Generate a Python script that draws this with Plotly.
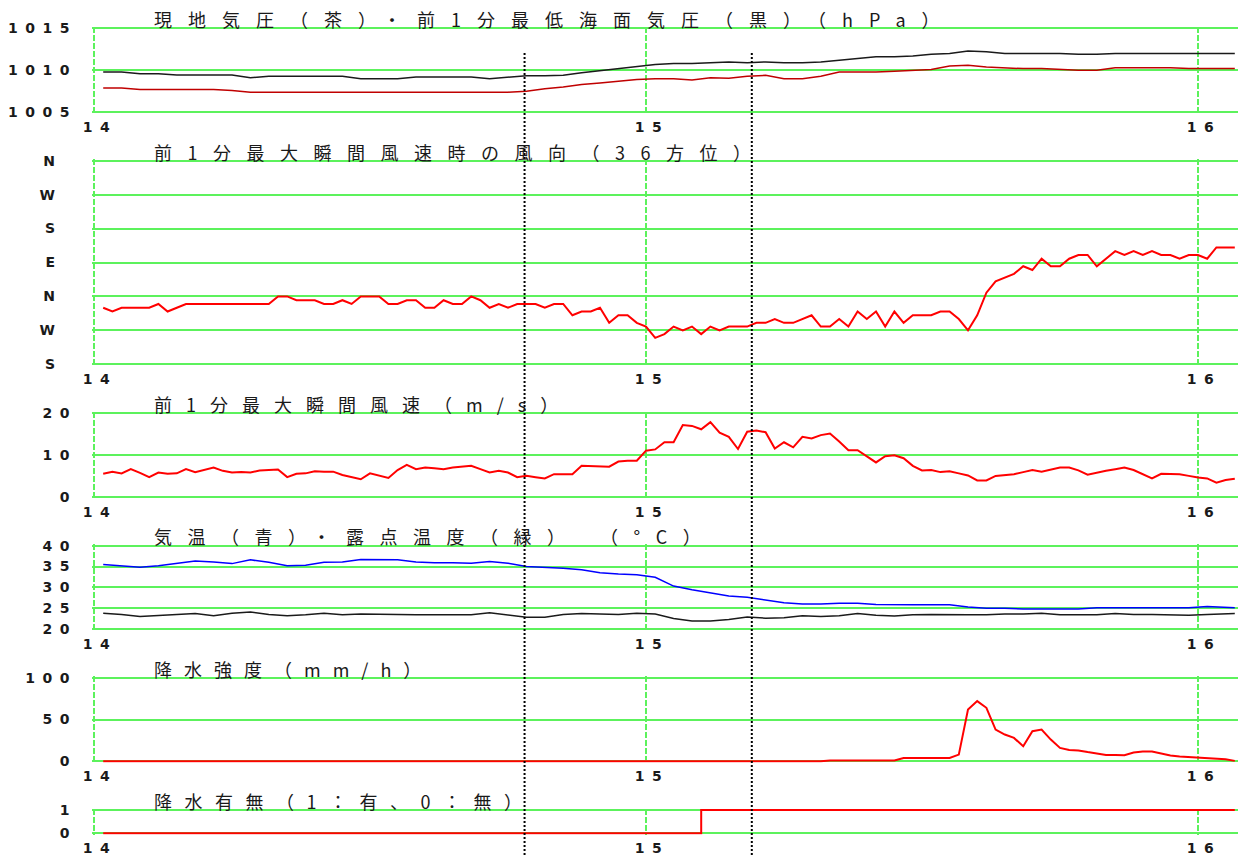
import plotly.graph_objects as go

# ---------------- data (minutes after 14:00) ----------------
minutes_1 = list(range(1, 125))                  # 1-minute samples 14:01 .. 16:04
minutes_2 = list(range(1, 124, 2)) + [124]       # 2-minute samples

sea_level_pressure = [
    1009.8, 1009.8, 1009.6, 1009.6, 1009.45, 1009.45, 1009.45, 1009.45, 1009.1, 1009.3,
    1009.3, 1009.3, 1009.3, 1009.3, 1009.0, 1009.0, 1009.0, 1009.2, 1009.2, 1009.2,
    1009.2, 1009.0, 1009.2, 1009.35, 1009.35, 1009.4, 1009.7, 1009.95, 1010.2, 1010.45,
    1010.7, 1010.8, 1010.8, 1010.9, 1011.0, 1010.9, 1011.0, 1010.9, 1010.9, 1011.0,
    1011.2, 1011.4, 1011.6, 1011.6, 1011.7, 1011.9, 1012.0, 1012.3, 1012.2, 1012.0,
    1012.0, 1012.0, 1012.0, 1011.9, 1011.9, 1012.0, 1012.0, 1012.0, 1012.0, 1012.0,
    1012.0, 1012.0, 1012.0]
station_pressure = [
    1007.9, 1007.9, 1007.7, 1007.7, 1007.7, 1007.7, 1007.7, 1007.6, 1007.4,
    1007.4, 1007.4, 1007.4, 1007.4, 1007.4, 1007.4, 1007.4, 1007.4, 1007.4, 1007.4,
    1007.4, 1007.4, 1007.4, 1007.4,
    1007.5, 1007.8, 1008.0, 1008.3, 1008.5, 1008.7, 1008.9, 1009.0, 1009.0, 1008.85,
    1009.1, 1009.05, 1009.3, 1009.4, 1009.0, 1009.0, 1009.3, 1009.8, 1009.8, 1009.8,
    1009.9, 1010.0, 1010.1, 1010.5, 1010.6, 1010.4, 1010.3, 1010.2, 1010.2, 1010.1,
    1010.0, 1010.0, 1010.3, 1010.3, 1010.3, 1010.3, 1010.2, 1010.2, 1010.2, 1010.2]

# wind direction in degrees on an unwrapped scale (S=180, W=270, N=360, E=450, S=540 ...)
gust_direction = [
    330, 320, 330, 330, 330, 330, 340, 320, 330, 340,
    340, 340, 340, 340, 340, 340, 340, 340, 340, 360,
    360, 350, 350, 350, 340, 340, 350, 340, 360, 360,
    360, 340, 340, 350, 350, 330, 330, 350, 340, 340,
    360, 350, 330, 340, 330, 340, 340, 340, 330, 340,
    340, 310, 320, 320, 330, 290, 310, 310, 290, 280,
    250, 260, 280, 270, 280, 260, 280, 270, 280, 280,
    280, 290, 290, 300, 290, 290, 300, 310, 280, 280,
    300, 280, 320, 300, 320, 280, 320, 290, 310, 310,
    310, 320, 320, 300, 270, 310, 370, 400, 410, 420,
    440, 430, 460, 440, 440, 460, 470, 470, 440, 460,
    480, 470, 480, 470, 480, 470, 470, 460, 470, 470,
    460, 490, 490, 490]
direction_tick_values = [180, 270, 360, 450, 540, 630, 720]
direction_tick_labels = ["S", "W", "N", "E", "S", "W", "N"]

gust_speed = [
    5.6, 6.1, 5.7, 6.7, 5.8, 4.8, 5.9, 5.6, 5.7, 6.7,
    6.0, 6.5, 7.1, 6.3, 5.9, 6.0, 5.9, 6.4, 6.5, 6.6,
    4.8, 5.6, 5.7, 6.2, 6.1, 6.1, 5.3, 4.8, 4.3, 5.7,
    5.1, 4.6, 6.5, 7.7, 6.7, 7.1, 6.9, 6.7, 7.1, 7.3,
    7.5, 6.7, 5.9, 6.3, 5.9, 4.8, 5.1, 4.8, 4.5, 5.5,
    5.5, 5.5, 7.5, 7.4, 7.3, 7.3, 8.5, 8.7, 8.7, 11.1,
    11.4, 13.1, 13.1, 17.2, 17.0, 16.2, 17.9, 15.4, 14.4, 11.5,
    15.6, 15.9, 15.5, 11.6, 13.1, 11.9, 14.4, 14.0, 14.8, 15.2,
    13.3, 11.2, 11.2, 9.8, 8.3, 9.8, 10.0, 9.3, 7.5, 6.4,
    6.5, 6.0, 6.2, 5.7, 5.2, 4.0, 4.0, 5.1, 5.3, 5.5,
    6.0, 6.5, 6.1, 6.6, 7.1, 7.1, 6.4, 5.4, 5.9, 6.3,
    6.7, 7.1, 6.5, 5.5, 4.5, 5.6, 5.6, 5.5, 5.1, 4.7,
    4.5, 3.5, 4.1, 4.4]

air_temperature = [
    35.5, 35.1, 34.8, 35.2, 35.7, 36.3, 36.1, 35.7, 36.6, 36.0,
    35.2, 35.3, 36.0, 36.1, 36.7, 36.6, 36.6, 36.1, 35.9, 35.9,
    35.8, 36.2, 35.8, 35.0, 34.8, 34.6, 34.2, 33.5, 33.2, 33.0,
    32.4, 30.3, 29.4, 28.6, 27.9, 27.6, 26.9, 26.3, 26.0, 26.0,
    26.2, 26.2, 25.9, 25.8, 25.8, 25.8, 25.8, 25.3, 25.0, 25.0,
    24.8, 24.8, 24.8, 24.8, 25.1, 25.1, 25.1, 25.1, 25.1, 25.1,
    25.4, 25.1, 25.1]
dew_point = [
    23.8, 23.5, 23.0, 23.2, 23.4, 23.7, 23.2, 23.8, 24.1, 23.5,
    23.2, 23.4, 23.8, 23.4, 23.6, 23.5, 23.4, 23.4, 23.4, 23.4,
    23.4, 23.9, 23.4, 22.8, 22.8, 23.5, 23.7, 23.6, 23.5, 23.8,
    23.6, 22.5, 21.9, 21.9, 22.3, 22.9, 22.6, 22.7, 23.2, 23.0,
    23.2, 23.7, 23.3, 23.1, 23.4, 23.5, 23.4, 23.4, 23.4, 23.6,
    23.6, 23.8, 23.4, 23.4, 23.4, 23.7, 23.5, 23.5, 23.4, 23.3,
    23.5, 23.6, 23.7]

rain_intensity = [0.0] * 79 + [
    1, 1, 1, 1, 1, 1, 1, 1,
    4, 4, 4, 4, 4, 4,
    8, 62, 72, 64, 38, 32, 28, 18, 36, 38,
    26, 16, 13.5, 13, 11, 9, 7.6, 7.5, 7.2, 10.5,
    11.6, 11.6, 9, 7, 5.8, 5, 4.5, 3.6, 3, 2.4,
    0.5]

rain_flag_minutes = [1, 66, 124]
rain_flag = [0, 1, 1]

marker_minutes = [46.8, 71.5]          # dotted reference lines
hour_ticks = [14, 15, 16]

titles = [
    "現地気圧（茶）・前1分最低海面気圧（黒）（hPa）",
    "前1分最大瞬間風速時の風向（36方位）",
    "前1分最大瞬間風速（m/s）",
    "気温（青）・露点温度（緑） （°C）",
    "降水強度（mm/h）",
    "降水有無（1：有、0：無）",
]

# ---------------- layout helpers ----------------
W, H = 1241, 855
PX14, PX16, PXR = 94.0, 1198.0, 1238.0
PX_PER_H = (PX16 - PX14) / 2.0
PAD = 1.5


def hours(mins):
    return [14 + m / 60.0 for m in mins]


x_min = 14 - 2.0 / PX_PER_H
x_max = 14 + (PXR - PX14) / PX_PER_H
x_domain = [(PX14 - 2.0) / W, PXR / W]

# (top px, bottom px, value at top, value at bottom, tick values, tick labels)
panels = [
    (28.3, 112.3, 1015, 1005, [1005, 1010, 1015], None),
    (160.7, 364.3, 720, 180, direction_tick_values, direction_tick_labels),
    (413.3, 497.3, 20, 0, [0, 10, 20], None),
    (545.7, 629.0, 40, 20, [20, 25, 30, 35, 40], None),
    (677.7, 761.3, 100, 0, [0, 50, 100], None),
    (810.0, 833.3, 1, 0, [0, 1], None),
]
title_y = [19.5, 152, 404, 536, 669, 801]
title_spacing = [16.0, 15.5, 14, 15.5, 12, 12.5]

GREEN = "#5cf25c"
TXT = "#1a1a1a"
tick_font = dict(family="DejaVu Sans", size=14, color=TXT, weight="bold")
SP = 7.5


def spaced(s, sp):
    return f'<span style="letter-spacing:{sp}px">{s}</span>'


fig = go.Figure()

layout = dict(
    template="none",
    width=W, height=H, autosize=False,
    margin=dict(l=0, r=0, t=0, b=0, pad=0, autoexpand=False),
    paper_bgcolor="white", plot_bgcolor="white",
    showlegend=False, hovermode=False,
)

for i, (top, bot, vtop, vbot, tv, tt) in enumerate(panels, start=1):
    upp = (vtop - vbot) / (bot - top)
    yr = [vbot - PAD * upp, vtop + PAD * upp]
    ydom = [1 - (bot + PAD) / H, 1 - (top - PAD) / H]
    sfx = "" if i == 1 else str(i)
    layout["xaxis" + sfx] = dict(
        domain=x_domain, range=[x_min, x_max], anchor="y" + sfx,
        tickvals=hour_ticks, ticktext=[spaced(str(h), SP) for h in hour_ticks],
        showgrid=True, gridcolor=GREEN, gridwidth=2, griddash="6px,2px",
        showline=False, zeroline=False, ticks="", tickfont=tick_font,
        ticklabelstandoff=3, ticklabelshift=6, fixedrange=True, automargin=False,
    )
    if tt is None:
        ticktext = [spaced(str(v), SP) for v in tv]
        standoff = 14
    else:
        ticktext = tt
        standoff = 36
    layout["yaxis" + sfx] = dict(
        domain=ydom, range=yr, anchor="x" + sfx,
        tickvals=tv, ticktext=ticktext,
        showgrid=True, gridcolor=GREEN, gridwidth=2,
        showline=False, zeroline=False, ticks="", tickfont=tick_font,
        ticklabelstandoff=standoff, fixedrange=True, automargin=False,
    )

fig.update_layout(**layout)

# ---------------- traces ----------------
fig.add_trace(go.Scatter(x=hours(minutes_2), y=sea_level_pressure, mode="lines",
                         line=dict(color="#1a1a1a", width=1.5), xaxis="x", yaxis="y"))
fig.add_trace(go.Scatter(x=hours(minutes_2), y=station_pressure, mode="lines",
                         line=dict(color="#c00000", width=1.5), xaxis="x", yaxis="y"))
fig.add_trace(go.Scatter(x=hours(minutes_1), y=gust_direction, mode="lines",
                         line=dict(color="#ff0000", width=2), xaxis="x2", yaxis="y2"))
fig.add_trace(go.Scatter(x=hours(minutes_1), y=gust_speed, mode="lines",
                         line=dict(color="#ff0000", width=2), xaxis="x3", yaxis="y3"))
fig.add_trace(go.Scatter(x=hours(minutes_2), y=air_temperature, mode="lines",
                         line=dict(color="#0000ff", width=1.5), xaxis="x4", yaxis="y4"))
fig.add_trace(go.Scatter(x=hours(minutes_2), y=dew_point, mode="lines",
                         line=dict(color="#1a1a1a", width=1.5), xaxis="x4", yaxis="y4"))
fig.add_trace(go.Scatter(x=hours(minutes_1), y=rain_intensity, mode="lines",
                         line=dict(color="#ff0000", width=2), xaxis="x5", yaxis="y5"))
fig.add_trace(go.Scatter(x=hours(rain_flag_minutes), y=rain_flag, mode="lines",
                         line=dict(color="#ff0000", width=2, shape="hv"), xaxis="x6", yaxis="y6"))

# dotted reference lines
for m in marker_minutes:
    fig.add_shape(type="line", xref="x", yref="paper",
                  x0=14 + m / 60.0, x1=14 + m / 60.0, y0=0, y1=1 - 53 / H,
                  line=dict(color="black", width=2, dash="2px,2px"), layer="above")

# panel titles
for t, yc, sp in zip(titles, title_y, title_spacing):
    fig.add_annotation(text=spaced(t, sp), xref="paper", yref="paper",
                       x=152 / W, y=1 - yc / H, xanchor="left", yanchor="middle",
                       showarrow=False,
                       font=dict(family="Noto Sans CJK JP", size=18, color=TXT))

fig.write_html("out.html", config={"displayModeBar": False, "staticPlot": True},
               post_script="document.body.style.margin='0';")
